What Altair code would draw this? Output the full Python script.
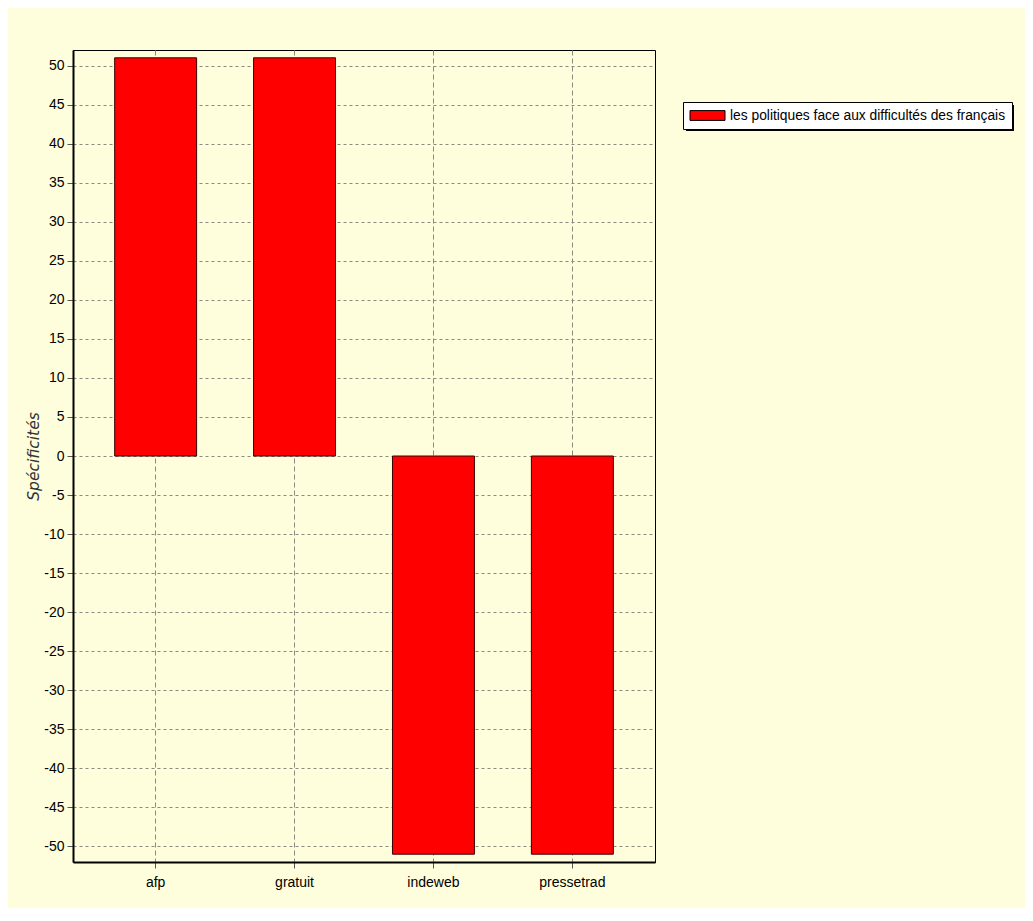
import altair as alt
import pandas as pd

categories = ["afp", "gratuit", "indeweb", "pressetrad"]
values = [51, 51, -51, -51]
series = "les politiques face aux difficultés des français"
y_ticks = list(range(-50, 55, 5))

df = pd.DataFrame({"cat": categories, "val": values, "serie": [series] * len(categories)})

FONT = "Liberation Sans"
BG = "#FFFEDC"

bars = alt.Chart(df).mark_bar(stroke="#3a0000", strokeWidth=1).encode(
    x=alt.X(
        "cat:N",
        sort=categories,
        scale=alt.Scale(paddingInner=0.41, paddingOuter=0.30),
        axis=alt.Axis(
            title=None, labelAngle=0, labelFont=FONT, labelFontSize=14, labelColor="black",
            labelPadding=7, tickSize=6, tickColor="#555555", domainColor="black", domainWidth=2,
            grid=True, gridColor="#8a8a80", gridDash=[5, 3], gridWidth=1, bandPosition=0.5,
        ),
    ),
    y=alt.Y(
        "val:Q",
        scale=alt.Scale(domain=[-52, 52], nice=False, zero=False),
        axis=alt.Axis(
            title="Spécificités", titleFont="DejaVu Sans", titleFontSize=15.5, titleFontStyle="italic",
            titleFontWeight="normal", titleColor="#333333", titlePadding=2,
            values=y_ticks, labelExpr="'' + datum.value",
            labelFont=FONT, labelFontSize=14, labelColor="black",
            labelPadding=3, tickSize=6, tickColor="#555555", domainColor="black", domainWidth=2,
            grid=True, gridColor="#8a8a80", gridDash=[3, 3], gridWidth=1,
        ),
    ),
    color=alt.Color(
        "serie:N",
        scale=alt.Scale(range=["#FF0000"]),
        legend=alt.Legend(
            title=None, orient="none", legendX=610, legendY=52,
            fillColor="white", strokeColor="black",
            padding=6, symbolType="M-2.5,-0.7H2.5V0.7H-2.5Z", symbolSize=196,
            symbolOffset=11, symbolStrokeColor="black", symbolStrokeWidth=1, symbolOpacity=1,
            labelFont=FONT, labelFontSize=13.8, labelColor="black", labelOffset=15,
            labelLimit=400,
        ),
    ),
)

shadow = alt.Chart(pd.DataFrame({"k": [0]})).mark_rect(color="black").encode(
    x=alt.value(613), x2=alt.value(941), y=alt.value(55), y2=alt.value(81)
)

chart = alt.layer(bars, shadow).properties(
    width=582,
    height=812,
    background=BG,
    padding={"left": 65, "top": 42, "right": 370, "bottom": 46},
    autosize=alt.AutoSizeParams(type="none"),
).configure_view(
    stroke="black", strokeWidth=1, fill=BG
)

chart.save("out.html", embed_options={"renderer": "svg", "actions": False})
